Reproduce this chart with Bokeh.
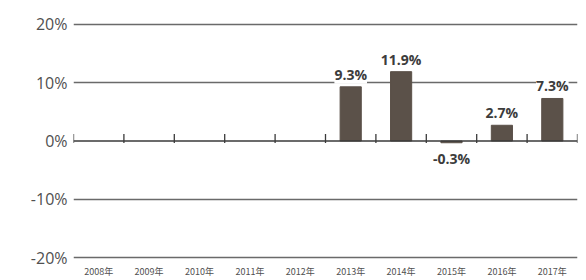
import math
from bokeh.plotting import figure
from bokeh.models import ColumnDataSource, LabelSet, Range1d, FixedTicker, Span
from bokeh.core.properties import value
from bokeh.embed import file_html
from bokeh.resources import INLINE

years = ["2008年", "2009年", "2010年", "2011年", "2012年",
         "2013年", "2014年", "2015年", "2016年", "2017年"]
values = [math.nan, math.nan, math.nan, math.nan, math.nan,
          9.3, 11.9, -0.3, 2.7, 7.3]
y_ticks = [-20, -10, 0, 10, 20]
y_labels = ["-20%", "-10%", "0%", "10%", "20%"]

BAR = "#5b5149"
GRID = "#6a6a6a"
TXT = "#505050"

idx = list(range(len(years)))

p = figure(width=586, height=280, output_backend="svg", toolbar_location=None,
           x_range=Range1d(-0.5, len(years) - 0.5), y_range=Range1d(-20.34, 20.34),
           min_border_left=73, min_border_right=9, min_border_top=22, min_border_bottom=17)
p.outline_line_color = None
p.background_fill_color = "white"
p.border_fill_color = "white"

# grid
p.xgrid.grid_line_color = None
p.ygrid.ticker = FixedTicker(ticks=[t for t in y_ticks if t != 0])
p.ygrid.grid_line_color = GRID
p.ygrid.grid_line_width = 1.5

# y axis
p.yaxis.ticker = FixedTicker(ticks=y_ticks)
p.yaxis.major_label_overrides = {t: l for t, l in zip(y_ticks, y_labels)}
p.yaxis.axis_line_color = None
p.yaxis.major_tick_line_color = None
p.yaxis.major_tick_out = 0
p.yaxis.major_tick_in = 0
p.yaxis.minor_tick_line_color = None
p.yaxis.minor_tick_out = 0
p.yaxis.major_label_standoff = 6
p.yaxis.major_label_text_font = "Open Sans"
p.yaxis.major_label_text_font_size = "16px"
p.yaxis.major_label_text_color = TXT

# x axis
p.xaxis.ticker = FixedTicker(ticks=idx)
p.xaxis.major_label_overrides = {i: y for i, y in zip(idx, years)}
p.xaxis.axis_line_color = None
p.xaxis.major_tick_line_color = None
p.xaxis.major_tick_out = 0
p.xaxis.major_tick_in = 0
p.xaxis.minor_tick_line_color = None
p.xaxis.minor_tick_out = 0
p.xaxis.major_label_standoff = 5
p.xaxis.major_label_text_font = "Noto Sans CJK SC"
p.xaxis.major_label_text_font_size = "9px"
p.xaxis.major_label_text_color = TXT

# zero line
p.add_layout(Span(location=0, dimension="width", line_color="#3a3a3a", line_width=1.6))

# boundary ticks on zero line
bounds = [i - 0.5 for i in range(len(years) + 1)]
p.segment(x0=bounds, x1=bounds, y0=[-0.35] * len(bounds), y1=[1.2] * len(bounds),
          line_color="#3a3a3a", line_width=1.3)

src = ColumnDataSource(dict(x=idx, top=values))
p.vbar(x="x", top="top", bottom=0, width=0.42, source=src,
       fill_color=BAR, line_color=BAR)

pos = [(i, v) for i, v in zip(idx, values) if not math.isnan(v) and v >= 0]
neg = [(i, v) for i, v in zip(idx, values) if not math.isnan(v) and v < 0]

src_pos = ColumnDataSource(dict(x=[a for a, _ in pos], y=[b for _, b in pos],
                                t=[f"{b}%" for _, b in pos]))
src_neg = ColumnDataSource(dict(x=[a for a, _ in neg], y=[b for _, b in neg],
                                t=[f"{b}%" for _, b in neg]))

common = dict(text_font=value("Open Sans"), text_font_size=value("14px"),
              text_font_style=value("bold"),
              text_color=value("#3c3c3c"), text_align=value("center"),
              background_fill_color=value("white"))
p.add_layout(LabelSet(x="x", y="y", text="t", source=src_pos, y_offset=3,
                      text_baseline=value("bottom"), **common))
p.add_layout(LabelSet(x="x", y="y", text="t", source=src_neg, y_offset=-6,
                      text_baseline=value("top"), **common))

open("out.html", "w").write(file_html(p, INLINE))
